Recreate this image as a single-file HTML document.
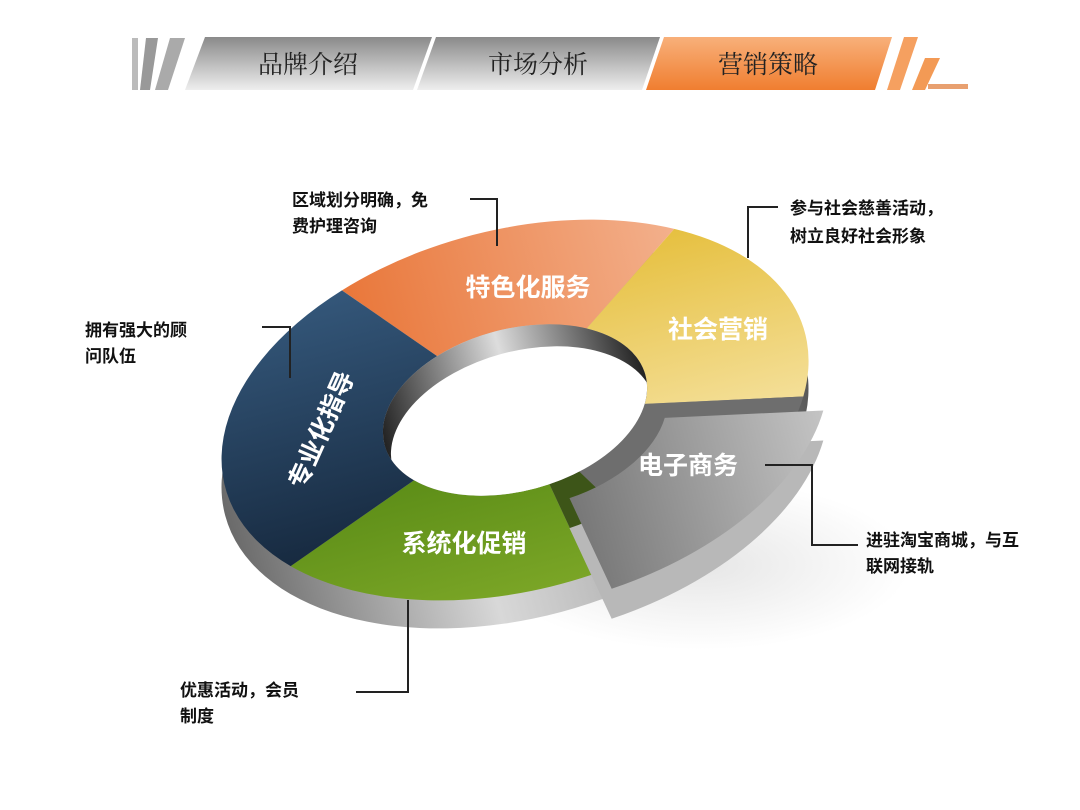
<!DOCTYPE html>
<html><head><meta charset="utf-8"><style>
body{margin:0;width:1080px;height:810px;background:#fff;overflow:hidden}
svg{display:block}
.t{font-family:"Liberation Serif","Noto Serif CJK SC",serif;font-size:25px;fill:#222}
.c{font-family:"Liberation Sans","Noto Sans CJK SC",sans-serif;font-size:17px;font-weight:bold;fill:#111}
.s{font-family:"Liberation Sans","Noto Sans CJK SC",sans-serif;font-size:25px;font-weight:bold;fill:#fff}
</style></head><body>
<svg width="1080" height="810" viewBox="0 0 1080 810">
<defs>
<linearGradient id="hg" x1="0" y1="0" x2="0" y2="1"><stop offset="0" stop-color="#8a8a8a"/><stop offset="1" stop-color="#eeeeee"/></linearGradient>
<linearGradient id="og" x1="0" y1="0" x2="0" y2="1"><stop offset="0" stop-color="#f8b07a"/><stop offset="1" stop-color="#f07e30"/></linearGradient>
<linearGradient id="side" x1="0" y1="0" x2="1" y2="0"><stop offset="0" stop-color="#6a6a6a"/><stop offset=".4" stop-color="#d8d8d8"/><stop offset=".8" stop-color="#9a9a9a"/><stop offset="1" stop-color="#555"/></linearGradient>
<linearGradient id="blue" x1="0" y1="0" x2="0" y2="1"><stop offset="0" stop-color="#34577a"/><stop offset="1" stop-color="#172a40"/></linearGradient>
<linearGradient id="ora" x1="0" y1="0" x2="1" y2="0"><stop offset="0" stop-color="#e9773a"/><stop offset="1" stop-color="#f3b08c"/></linearGradient>
<linearGradient id="yel" x1="0" y1="0" x2="0" y2="1"><stop offset="0" stop-color="#e6c040"/><stop offset="1" stop-color="#f4df98"/></linearGradient>
<linearGradient id="gry" x1="0" y1="0" x2="1" y2="0"><stop offset="0" stop-color="#777"/><stop offset="1" stop-color="#c4c4c4"/></linearGradient>
<linearGradient id="grn" x1="0" y1="0" x2="0" y2="1"><stop offset="0" stop-color="#5d8e18"/><stop offset="1" stop-color="#7aa526"/></linearGradient>
<linearGradient id="hole" x1="0" y1="0" x2="1" y2="0"><stop offset="0" stop-color="#222"/><stop offset=".5" stop-color="#ddd"/><stop offset="1" stop-color="#222"/></linearGradient>
<radialGradient id="shd"><stop offset="0" stop-color="#e6e6e6"/><stop offset="1" stop-color="#fff"/></radialGradient>
<clipPath id="hc"><circle r="135" transform="translate(515,410) rotate(-15) scale(1,0.6)"/></clipPath>
</defs>

<polygon points="132,38 138,38 138,90 132,90" fill="#bbb"/>
<polygon points="146,38 158,38 150,90 140,90" fill="#999"/>
<polygon points="170,38 185,38 168,90 155,90" fill="#aaa"/>
<polygon points="205,37 432,37 413,90 185,90" fill="url(#hg)"/>
<polygon points="436,37 660,37 642,90 417,90" fill="url(#hg)"/>
<polygon points="664,37 892,37 875,90 646,90" fill="url(#og)"/>
<polygon points="904,37 918,37 900,90 887,90" fill="#f5a060"/>
<polygon points="925,58 940,58 925,90 912,90" fill="#f39a55"/>
<rect x="928" y="84" width="40" height="5" fill="#e8a070"/>
<text class="t" x="308" y="73" text-anchor="middle">品牌介绍</text>
<text class="t" x="538" y="73" text-anchor="middle">市场分析</text>
<text class="t" x="768" y="73" text-anchor="middle">营销策略</text>

<ellipse cx="700" cy="565" rx="210" ry="85" fill="url(#shd)"/>

<g transform="translate(0,28)"><circle r="300" fill="url(#side)" transform="translate(515,410) rotate(-15) scale(1,0.6)"/></g>
<g transform="translate(515,410) rotate(-15) scale(1,0.6)">
<path d="M-136.2,-267.3 A300,300 0 0 1 200.7,-222.9 L90.3,-100.3 A135,135 0 0 0 -61.3,-120.3Z" fill="url(#ora)"/>
<path d="M200.7,-222.9 A300,300 0 0 1 282,102.6 L126.9,46.2 A135,135 0 0 0 90.3,-100.3Z" fill="url(#yel)"/>
<path d="M31.4,298.4 A300,300 0 0 1 -257.1,154.5 L-115.7,69.5 A135,135 0 0 0 14.1,134.3Z" fill="url(#grn)"/>
<path d="M-257.1,154.5 A300,300 0 0 1 -136.2,-267.3 L-61.3,-120.3 A135,135 0 0 0 -115.7,69.5Z" fill="url(#blue)"/>
<path d="M282,102.6 A300,300 0 0 1 31.4,298.4 L14.1,134.3 A135,135 0 0 0 126.9,46.2Z" fill="#6e6e6e"/>
<path d="M102.6,281.9 A300,300 0 0 1 31.4,298.4 L14.1,134.3 A135,135 0 0 0 46.2,126.9Z" fill="#3d5518"/>
<circle r="135" fill="url(#hole)"/>
</g>
<g clip-path="url(#hc)"><circle r="135" fill="#fff" transform="translate(523,432) rotate(-15) scale(1,0.6)"/></g>

<g transform="translate(20,14)">
<g transform="translate(0,30)"><path transform="translate(515,410) rotate(-15) scale(1,0.6)" d="M282,102.6 A300,300 0 0 1 31.4,298.4 L14.1,134.3 A135,135 0 0 0 126.9,46.2Z" fill="#b8b8b8"/></g>
<path transform="translate(515,410) rotate(-15) scale(1,0.6)" d="M282,102.6 A300,300 0 0 1 31.4,298.4 L14.1,134.3 A135,135 0 0 0 126.9,46.2Z" fill="url(#gry)"/>
</g>

<text class="s" x="528" y="296" text-anchor="middle">特色化服务</text>
<text class="s" x="718" y="338" text-anchor="middle">社会营销</text>
<text class="s" x="688" y="474" text-anchor="middle">电子商务</text>
<text class="s" x="464" y="552" text-anchor="middle">系统化促销</text>
<text class="s" x="322" y="438" text-anchor="middle" transform="rotate(-66 322 430)">专业化指导</text>

<g fill="none" stroke="#222" stroke-width="2">
<polyline points="470,199 497,199 497,246"/>
<polyline points="778,207 748,207 748,258"/>
<polyline points="262,327 290,327 290,378"/>
<polyline points="765,465 812,465 812,545 858,545"/>
<polyline points="356,692 408,692 408,600"/>
</g>
<text class="c" x="292" y="206">区域划分明确，免</text>
<text class="c" x="292" y="232">费护理咨询</text>
<text class="c" x="790" y="214">参与社会慈善活动，</text>
<text class="c" x="790" y="242">树立良好社会形象</text>
<text class="c" x="85" y="336">拥有强大的顾</text>
<text class="c" x="85" y="362">问队伍</text>
<text class="c" x="866" y="546">进驻淘宝商城，与互</text>
<text class="c" x="866" y="572">联网接轨</text>
<text class="c" x="180" y="696">优惠活动，会员</text>
<text class="c" x="180" y="722">制度</text>
</svg>
</body></html>
